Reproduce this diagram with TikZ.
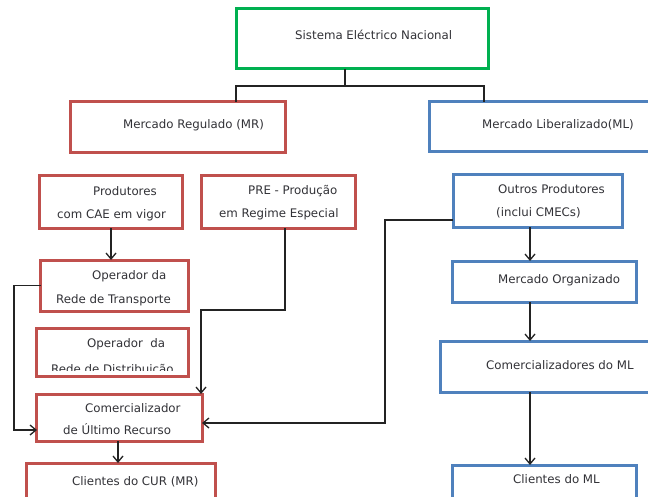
\documentclass[tikz,border=0pt]{standalone}
\usepackage{fontspec}
\setmainfont{DejaVu Sans}
\usetikzlibrary{arrows.meta}
\definecolor{boxgreen}{RGB}{0,176,80}
\definecolor{boxred}{RGB}{192,80,77}
\definecolor{boxblue}{RGB}{79,129,189}
\definecolor{inktext}{RGB}{50,50,55}
\definecolor{inkline}{RGB}{35,35,35}
\tikzset{
  box/.style={draw, line width=3bp, fill=white, outer sep=0pt, inner sep=0pt},
  greenbox/.style={box, draw=boxgreen},
  redbox/.style={box, draw=boxred},
  bluebox/.style={box, draw=boxblue},
  txt/.style={anchor=base west, inner sep=0pt, text=inktext, font=\fontsize{11.8bp}{13bp}\selectfont},
  link/.style={draw=inkline, line width=1.3bp},
  arr/.style={link, -{Straight Barb[length=6bp,width=10bp,line width=1.3bp]}},
}
\begin{document}
\begin{tikzpicture}[x=1bp, y=-1bp]
\useasboundingbox (0,0) rectangle (648,497);

% ---- boxes ----
\node[greenbox, minimum width=252bp, minimum height=60bp] (sen)    at (362,39)    {};
\node[redbox,   minimum width=214bp, minimum height=51bp] (mr)     at (178,127.5) {};
\node[bluebox,  minimum width=223bp, minimum height=50bp] (ml)     at (540.5,127) {};
\node[redbox,   minimum width=142bp, minimum height=52bp] (prod)   at (111,202)   {};
\node[redbox,   minimum width=154bp, minimum height=52bp] (pre)    at (278,202)   {};
\node[bluebox,  minimum width=169bp, minimum height=52bp] (outros) at (537.5,201) {};
\node[redbox,   minimum width=147bp, minimum height=51bp] (ort)    at (114.5,285.5) {};
\node[redbox,   minimum width=151bp, minimum height=48bp] (ord)    at (112.5,352) {};
\node[redbox,   minimum width=165bp, minimum height=47bp] (cur)    at (119.5,417.5) {};
\node[redbox,   minimum width=188bp, minimum height=37bp] (ccur)   at (121,481.5) {};
\node[bluebox,  minimum width=184bp, minimum height=41bp] (mo)     at (544,281.5) {};
\node[bluebox,  minimum width=212bp, minimum height=51bp] (cml)    at (546,366.5) {};
\node[bluebox,  minimum width=184bp, minimum height=35bp] (climl)  at (544,482.5) {};

% ---- texts ----
\node[txt] (t-sen)  at (295,40)  {Sistema Eléctrico Nacional};
\node[txt] (t-mr)   at (123,129) {Mercado Regulado (MR)};
\node[txt] (t-ml)   at (482,129) {Mercado Liberalizado(ML)};
\node[txt] (t-pr1)  at (93,196)  {Produtores};
\node[txt] (t-pr2)  at (57,219)  {com CAE em vigor};
\node[txt] (t-pe1)  at (248,195) {PRE - Produção};
\node[txt] (t-pe2)  at (219,218) {em Regime Especial};
\node[txt] (t-ou1)  at (498,194) {Outros Produtores};
\node[txt] (t-ou2)  at (496,217) {(inclui CMECs)};
\node[txt] (t-rt1)  at (92,279)  {Operador da};
\node[txt] (t-rt2)  at (56,303)  {Rede de Transporte};
\node[txt] (t-rd1)  at (87,347)  {Operador\ \ da};
\begin{scope}
  % the second line runs into the lower border and is cut off there
  \clip (37,330) rectangle (188,370.8);
  \node[txt] (t-rd2) at (51,373.5) {Rede de Distribuição};
\end{scope}
\node[txt] (t-cu1)  at (85,412)  {Comercializador};
\node[txt] (t-cu2)  at (63,434)  {de Último Recurso};
\node[txt] (t-cc)   at (72,485)  {Clientes do CUR (MR)};
\node[txt] (t-mo)   at (498,283) {Mercado Organizado};
\node[txt] (t-cml)  at (486,369) {Comercializadores do ML};
\node[txt] (t-cl)   at (513,483) {Clientes do ML};

% ---- connectors ----
\coordinate (bus)  at (345,86);
\coordinate (busL) at (236,86);
\coordinate (busR) at (484,86);
\draw[link] (sen.south -| bus) -- (bus);
\draw[link] (mr.north -| busL) -- (busL) -- (busR) -- (ml.north -| busR);

% left column
\draw[arr] (prod.south) -- (prod.south |- ort.north);
\coordinate (lret) at (14,430);
\draw[arr] (ort.west) -| (lret) -- (lret -| cur.west);
\coordinate (preA) at (285,310);
\coordinate (preB) at (201,310);
\draw[arr] (pre.south -| preA) -- (preA) -- (preB) -- (preB |- cur.north);
\coordinate (curx) at (118,0);
\draw[arr] (cur.south -| curx) -- (ccur.north -| curx);

% right column
\coordinate (oA) at (385,220);
\coordinate (oB) at (385,423);
\draw[arr] (oA -| outros.west) -- (oA) -- (oB) -- (oB -| cur.east);
\coordinate (rx) at (530,0);
\draw[arr] (outros.south -| rx) -- (mo.north -| rx);
\draw[arr] (mo.south -| rx) -- (cml.north -| rx);
\draw[arr] (cml.south -| rx) -- (climl.north -| rx);
\end{tikzpicture}
\end{document}
